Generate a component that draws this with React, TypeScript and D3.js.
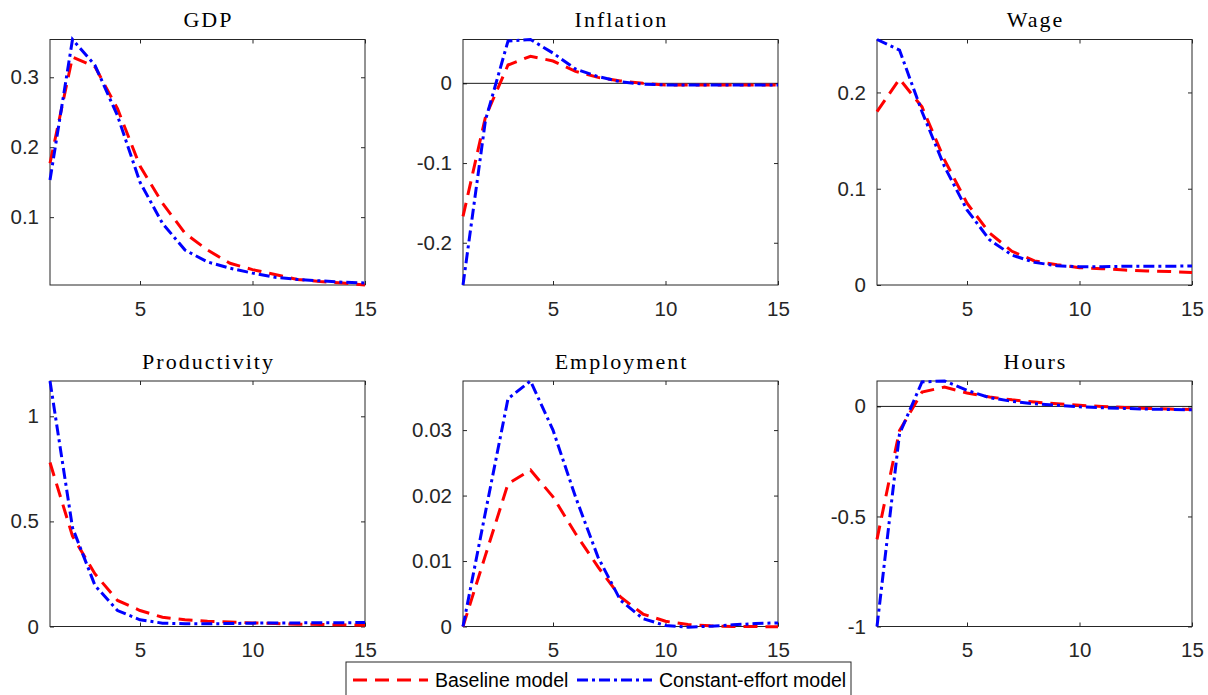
import React, { useEffect, useRef } from 'react';
import * as d3 from 'd3';

// horizons and tick labels
const periods = [1, 2, 3, 4, 5, 6, 7, 8, 9, 10, 11, 12, 13, 14, 15];
const xTicks = [5, 10, 15];

// impulse responses
const gdpBaseline = [0.177, 0.329, 0.315, 0.255, 0.173, 0.12, 0.077, 0.053, 0.034, 0.025, 0.018, 0.011, 0.008, 0.006, 0.003];
const gdpConstant = [0.153, 0.354, 0.317, 0.245, 0.15, 0.091, 0.053, 0.036, 0.027, 0.02, 0.014, 0.011, 0.009, 0.007, 0.006];

const inflationBaseline = [-0.167, -0.042, 0.023, 0.034, 0.028, 0.015, 0.0075, 0.003, 0.0, -0.002, -0.002, -0.002, -0.002, -0.002, -0.002];
const inflationConstant = [-0.253, -0.046, 0.053, 0.055, 0.038, 0.018, 0.0085, 0.002, -0.001, -0.002, -0.002, -0.002, -0.002, -0.002, -0.002];

const wageBaseline = [0.18, 0.214, 0.185, 0.13, 0.085, 0.054, 0.035, 0.025, 0.021, 0.018, 0.017, 0.0155, 0.0145, 0.014, 0.013];
const wageConstant = [0.255, 0.244, 0.18, 0.123, 0.078, 0.047, 0.031, 0.0235, 0.02, 0.019, 0.019, 0.0195, 0.0195, 0.0195, 0.0198];

const productivityBaseline = [0.78, 0.43, 0.25, 0.124, 0.076, 0.044, 0.032, 0.025, 0.021, 0.017, 0.014, 0.011, 0.0095, 0.008, 0.006];
const productivityConstant = [1.168, 0.47, 0.195, 0.076, 0.032, 0.016, 0.013, 0.013, 0.014, 0.016, 0.017, 0.017, 0.018, 0.018, 0.019];

const employmentBaseline = [0, 0.0109, 0.0218, 0.0239, 0.0198, 0.0142, 0.0091, 0.0045, 0.0019, 0.0008, 0.0003, 0.0001, 0, 0, -0.00005];
const employmentConstant = [0, 0.0175, 0.0348, 0.0375, 0.03, 0.0198, 0.0106, 0.004, 0.0012, 0.00015, -0.0001, 0.00005, 0.00025, 0.00045, 0.00055];

const hoursBaseline = [-0.604, -0.11, 0.065, 0.088, 0.061, 0.043, 0.03, 0.02, 0.012, 0.005, 0, -0.005, -0.009, -0.012, -0.014];
const hoursConstant = [-1.0, -0.125, 0.111, 0.116, 0.073, 0.04, 0.023, 0.012, 0.005, -0.002, -0.006, -0.009, -0.012, -0.014, -0.015];

const panels = [
  { title: 'GDP', baseline: gdpBaseline, constant: gdpConstant, yDomain: [0.003, 0.354], yTicks: [0.1, 0.2, 0.3], zero: false },
  { title: 'Inflation', baseline: inflationBaseline, constant: inflationConstant, yDomain: [-0.253, 0.055], yTicks: [-0.2, -0.1, 0], zero: true },
  { title: 'Wage', baseline: wageBaseline, constant: wageConstant, yDomain: [0, 0.255], yTicks: [0, 0.1, 0.2], zero: false },
  { title: 'Productivity', baseline: productivityBaseline, constant: productivityConstant, yDomain: [0, 1.168], yTicks: [0, 0.5, 1], zero: false },
  { title: 'Employment', baseline: employmentBaseline, constant: employmentConstant, yDomain: [0, 0.0375], yTicks: [0, 0.01, 0.02, 0.03], zero: false },
  { title: 'Hours', baseline: hoursBaseline, constant: hoursConstant, yDomain: [-1.0, 0.1155], yTicks: [-1, -0.5, 0], zero: true },
];

const seriesNames = ['Baseline model', 'Constant-effort model'];

const W = 1208;
const H = 695;
const colX = [50, 463, 877];
const rowY = [39.5, 381];
const plotW = 315;
const plotH = 245.5;
const axisColor = '#262626';
const red = '#ff0000';
const blue = '#0000ff';
const redDash = '14,8';
const blueDash = '11,4,3,4';
const tickFont = "'Liberation Sans', Arial, sans-serif";
const titleFont = "'Liberation Serif', 'Times New Roman', serif";

export default function App() {
  const ref = useRef<SVGSVGElement>(null);

  useEffect(() => {
    const svg = d3.select(ref.current);
    svg.selectAll('*').remove();
    svg.append('rect').attr('width', W).attr('height', H).attr('fill', 'white');

    panels.forEach((p, i) => {
      const left = colX[i % 3];
      const top = rowY[Math.floor(i / 3)];
      const x = d3.scaleLinear().domain([1, 15]).range([0, plotW]);
      const y = d3.scaleLinear().domain(p.yDomain).range([plotH, 0]);
      const g = svg.append('g').attr('transform', `translate(${left},${top})`);

      const style = (sel: any) => {
        sel.attr('color', axisColor).attr('font-family', tickFont).attr('font-size', 20.5);
        sel.select('.domain').remove();
      };

      g.append('g')
        .attr('transform', `translate(0,${plotH})`)
        .call(d3.axisBottom(x).tickValues(xTicks).tickSizeInner(-4).tickSizeOuter(0).tickPadding(16).tickFormat((d: any) => String(d)))
        .call(style);
      g.append('g')
        .call(d3.axisTop(x).tickValues(xTicks).tickSizeInner(-4).tickSizeOuter(0).tickFormat(() => ''))
        .call(style);
      g.append('g')
        .call(d3.axisLeft(y).tickValues(p.yTicks).tickSizeInner(-4).tickSizeOuter(0).tickPadding(11).tickFormat((d: any) => String(d)))
        .call(style);
      g.append('g')
        .attr('transform', `translate(${plotW},0)`)
        .call(d3.axisRight(y).tickValues(p.yTicks).tickSizeInner(-4).tickSizeOuter(0).tickFormat(() => ''))
        .call(style);

      g.append('rect')
        .attr('width', plotW)
        .attr('height', plotH)
        .attr('fill', 'none')
        .attr('stroke', axisColor)
        .attr('stroke-width', 1);

      if (p.zero) {
        g.append('line')
          .attr('x1', 0).attr('x2', plotW)
          .attr('y1', y(0)).attr('y2', y(0))
          .attr('stroke', '#000').attr('stroke-width', 0.9);
      }

      const line = d3.line<number>().x((_, k) => x(periods[k])).y(d => y(d));
      g.append('path').attr('d', line(p.baseline)).attr('fill', 'none')
        .attr('stroke', red).attr('stroke-width', 3).attr('stroke-dasharray', redDash);
      g.append('path').attr('d', line(p.constant)).attr('fill', 'none')
        .attr('stroke', blue).attr('stroke-width', 3).attr('stroke-dasharray', blueDash);

      g.append('text')
        .attr('x', plotW / 2 + 1)
        .attr('y', -12.3)
        .attr('text-anchor', 'middle')
        .attr('font-family', titleFont)
        .attr('font-size', 22)
        .attr('letter-spacing', 2)
        .attr('fill', '#000')
        .text(p.title);
    });

    // legend
    const lg = svg.append('g').attr('transform', 'translate(346,662)');
    lg.append('rect').attr('width', 505).attr('height', 45)
      .attr('fill', 'white').attr('stroke', axisColor).attr('stroke-width', 1);
    const entries = [
      { name: seriesNames[0], color: red, dash: redDash, x: 7 },
      { name: seriesNames[1], color: blue, dash: blueDash, x: 231 },
    ];
    entries.forEach(e => {
      lg.append('line').attr('x1', e.x).attr('x2', e.x + 75).attr('y1', 18).attr('y2', 18)
        .attr('stroke', e.color).attr('stroke-width', 3).attr('stroke-dasharray', e.dash);
      lg.append('text').attr('x', e.x + 82).attr('y', 25)
        .attr('font-family', tickFont).attr('font-size', 19.5).attr('fill', '#000')
        .text(e.name);
    });
  }, []);

  return (
    <svg ref={ref} width={W} height={H} style={{ position: 'absolute', left: 0, top: 0 }} />
  );
}
